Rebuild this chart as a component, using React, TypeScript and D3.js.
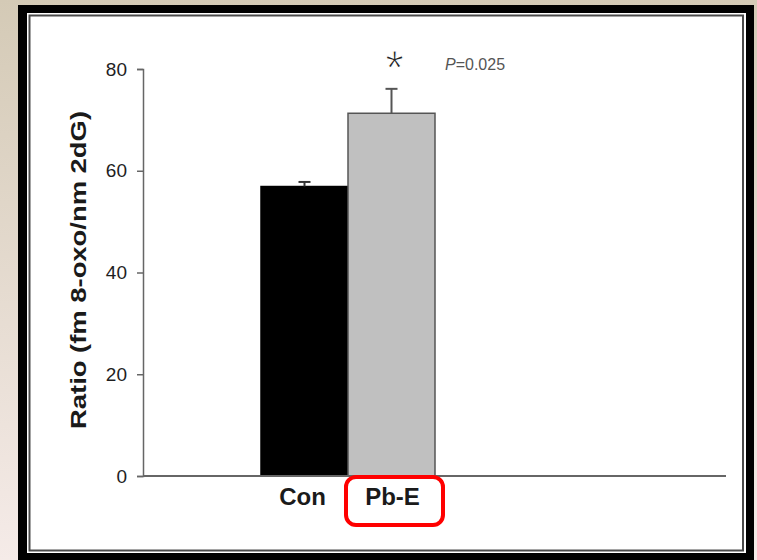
import * as d3 from "d3";
import { useEffect, useRef } from "react";

const categories = ["Con", "Pb-E"];
const means = [56.9, 71.3];
const errors = [0.9, 4.8];
const barColors = ["#000000", "#c0c0c0"];
const yTicks = [0, 20, 40, 60, 80];
const yLabel = "Ratio (fm 8-oxo/nm 2dG)";
const pText = "=0.025";

const W = 757;
const H = 560;

const App = () => {
    const ref = useRef(null);

    useEffect(() => {
        const svg = d3.select(ref.current);
        svg.selectAll("*").remove();

        const defs = svg.append("defs");
        const grad = defs.append("linearGradient")
            .attr("id", "bg").attr("x1", 0).attr("y1", 0).attr("x2", 0).attr("y2", 1);
        grad.append("stop").attr("offset", "0%").attr("stop-color", "#d4cab6");
        grad.append("stop").attr("offset", "100%").attr("stop-color", "#f5ebe8");

        svg.append("rect").attr("width", W).attr("height", H).attr("fill", "url(#bg)");

        // frame
        svg.append("rect").attr("x", 18).attr("y", 5).attr("width", 736).attr("height", 560).attr("fill", "#000");
        svg.append("rect").attr("x", 27).attr("y", 13).attr("width", 719).attr("height", 540).attr("fill", "#fff");
        svg.append("rect").attr("x", 29.5).attr("y", 15.5).attr("width", 713.5).attr("height", 535)
            .attr("fill", "none").attr("stroke", "#4a4a4a").attr("stroke-width", 2);

        const y = d3.scaleLinear().domain([0, 80]).range([476, 69]);
        const x = d3.scaleBand().domain(categories).range([261, 435]).padding(0);

        // bars
        svg.selectAll(".bar")
            .data(categories)
            .enter()
            .append("rect")
            .attr("x", d => x(d))
            .attr("y", (d, i) => y(means[i]))
            .attr("width", x.bandwidth())
            .attr("height", (d, i) => y(0) - y(means[i]))
            .attr("fill", (d, i) => barColors[i])
            .attr("stroke", (d, i) => (i === 0 ? "#000" : "#555"))
            .attr("stroke-width", 1.5);

        // error bars
        categories.forEach((c, i) => {
            const cx = x(c) + x.bandwidth() / 2;
            const g = svg.append("g").attr("stroke", i === 0 ? "#333" : "#555").attr("stroke-width", 2);
            g.append("line").attr("x1", cx).attr("x2", cx).attr("y1", y(means[i])).attr("y2", y(means[i] + errors[i]));
            g.append("line").attr("x1", cx - 6).attr("x2", cx + 6)
                .attr("y1", y(means[i] + errors[i])).attr("y2", y(means[i] + errors[i]));
        });

        // y axis
        const yAxis = svg.append("g")
            .attr("transform", "translate(143,0)")
            .call(d3.axisLeft(y).tickValues(yTicks).tickSize(6).tickPadding(10));
        yAxis.select(".domain").attr("stroke", "#666").attr("stroke-width", 1.5);
        yAxis.selectAll(".tick line").attr("stroke", "#666").attr("stroke-width", 1.5);
        yAxis.selectAll(".tick text")
            .attr("font-family", "Arial, 'Liberation Sans', sans-serif")
            .attr("font-size", 19)
            .attr("fill", "#1e1e1e");

        // x axis line
        svg.append("line")
            .attr("x1", 143).attr("x2", 726)
            .attr("y1", y(0)).attr("y2", y(0))
            .attr("stroke", "#666").attr("stroke-width", 2);

        // category labels
        svg.selectAll(".cat")
            .data(categories)
            .enter()
            .append("text")
            .attr("x", (d, i) => x(d) + x.bandwidth() / 2 + (i === 0 ? -2 : 1))
            .attr("y", 505)
            .attr("text-anchor", "middle")
            .attr("font-family", "Arial, 'Liberation Sans', sans-serif")
            .attr("font-weight", "bold")
            .attr("font-size", 24)
            .attr("fill", "#1a1a1a")
            .text(d => d);

        // highlight box
        svg.append("rect")
            .attr("x", 346).attr("y", 477).attr("width", 97).attr("height", 48)
            .attr("rx", 10)
            .attr("fill", "none").attr("stroke", "#ff0000").attr("stroke-width", 4);

        // y label
        svg.append("text")
            .attr("transform", "translate(86,270) rotate(-90)")
            .attr("text-anchor", "middle")
            .attr("font-family", "Arial, 'Liberation Sans', sans-serif")
            .attr("font-weight", "bold")
            .attr("font-size", 22)
            .attr("fill", "#1a1a1a")
            .attr("textLength", 318)
            .attr("lengthAdjust", "spacingAndGlyphs")
            .text(yLabel);

        // significance
        svg.append("text")
            .attr("x", x("Pb-E") + x.bandwidth() / 2 + 3).attr("y", 84)
            .attr("text-anchor", "middle")
            .attr("font-family", "Arial, 'Liberation Sans', sans-serif")
            .attr("font-size", 48)
            .attr("fill", "#222")
            .attr("stroke", "#fff")
            .attr("stroke-width", 1.2)
            .text("*");

        const p = svg.append("text")
            .attr("x", 445).attr("y", 70)
            .attr("font-family", "Arial, 'Liberation Sans', sans-serif")
            .attr("font-size", 16)
            .attr("fill", "#555");
        p.append("tspan").attr("font-style", "italic").text("P");
        p.append("tspan").text(pText);
    }, []);

    return (
        <svg ref={ref} width={W} height={H} style={{ position: "absolute", left: 0, top: 0 }}></svg>
    );
};

export default App;
